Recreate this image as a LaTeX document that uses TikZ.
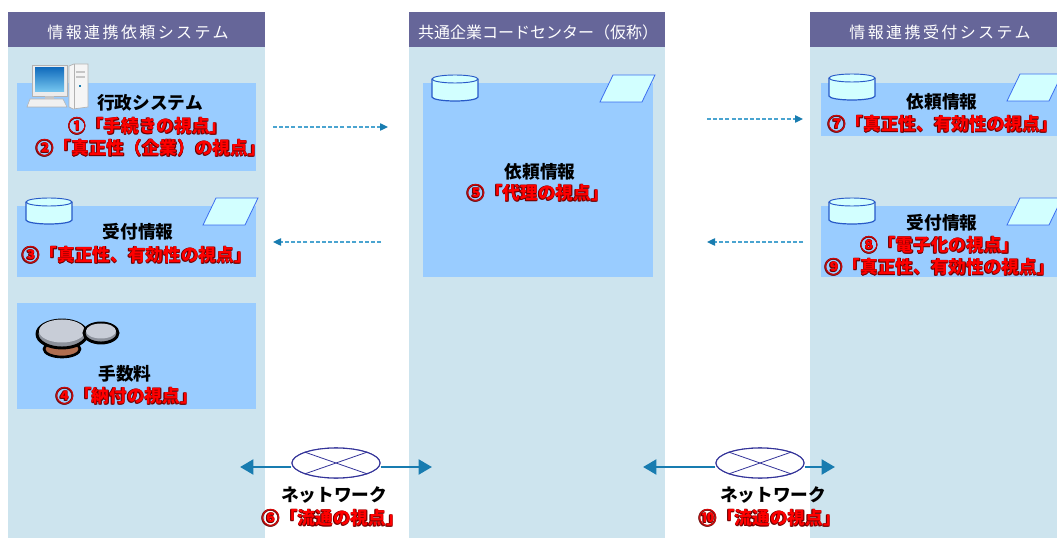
\documentclass[tikz,border=0pt]{standalone}
\usepackage{fontspec}
\usetikzlibrary{arrows.meta,shapes.geometric}

\newfontfamily\jpfont{Noto Sans CJK JP}
\newfontfamily\jphdr[LetterSpace=15]{Noto Sans CJK JP}

\definecolor{hdrbar}{RGB}{102,102,153}
\definecolor{colbg}{RGB}{205,228,238}
\definecolor{innerbox}{RGB}{153,204,255}
\definecolor{cylfill}{RGB}{210,255,255}
\definecolor{cyledge}{RGB}{40,90,200}
\definecolor{paraedge}{RGB}{60,110,240}
\definecolor{flowblue}{RGB}{24,124,176}
\definecolor{dashblue}{RGB}{74,164,208}
\definecolor{netedge}{RGB}{51,51,153}
\definecolor{viewred}{RGB}{255,0,0}
\definecolor{viewedge}{RGB}{110,0,0}
\definecolor{coinface}{RGB}{200,205,215}
\definecolor{coinrim}{RGB}{140,145,155}
\definecolor{copper}{RGB}{176,110,80}

% red viewpoint label with a thin dark rim
\newcommand\rimtext[1]{\leavevmode
  \rlap{\textcolor{viewedge}{\kern0.35pt\raisebox{0.35pt}{#1}}}%
  \rlap{\textcolor{viewedge}{\kern-0.35pt\raisebox{0.35pt}{#1}}}%
  \rlap{\textcolor{viewedge}{\kern0.35pt\raisebox{-0.35pt}{#1}}}%
  \rlap{\textcolor{viewedge}{\kern-0.35pt\raisebox{-0.35pt}{#1}}}%
  \textcolor{viewred}{#1}}

\begin{document}
\begin{tikzpicture}[x=0.75pt,y=-0.75pt,
  hdrtxt/.style={font=\jphdr\fontsize{12}{14}\selectfont, text=white, inner sep=0pt},
  hdrtxtc/.style={font=\jpfont\fontsize{12}{14}\selectfont, text=white, inner sep=0pt},
  itemtxt/.style={font=\jpfont\bfseries\fontsize{13.25}{15}\selectfont, text=black, inner sep=0pt},
  viewtxt/.style={font=\jpfont\bfseries\fontsize{13.25}{15}\selectfont, inner sep=0pt},
  dasharrow/.style={dashblue, line width=1pt, dash pattern=on 3pt off 1.6pt,
    -{Triangle[length=6pt,width=5.5pt,color=flowblue]}},
  netarrow/.style={flowblue, line width=2.2pt, -{Triangle[length=10pt,width=11pt]}},
  netell/.style={ellipse, draw=netedge, fill=white, line width=0.8pt,
    minimum width=66pt, minimum height=22.5pt, inner sep=0pt},
  dbcyl/.pic={
    \fill[cylfill] (0,4) rectangle (46,22);
    \fill[cylfill] (23,22) ellipse [x radius=23, y radius=4];
    \draw[cyledge, line width=0.9pt] (0,4) -- (0,22)
      arc[start angle=180, end angle=0, x radius=23, y radius=4] -- (46,4);
    \draw[cyledge, line width=0.7pt, fill=cylfill] (23,4) ellipse [x radius=23, y radius=4];
  },
  paper/.pic={
    \filldraw[fill=cylfill, draw=paraedge, line width=0.6pt]
      (13,0) -- (55,0) -- (42,27) -- (0,27) -- cycle;
  },
  computer/.pic={
    % keyboard
    \filldraw[fill=gray!12, draw=gray!60, line width=0.4pt]
      (3,36) -- (36,36) -- (40,44) -- (0,44) -- cycle;
    % monitor
    \filldraw[fill=gray!15, draw=gray!60, line width=0.5pt] (5,2) rectangle (40,33);
    \shade[top color={rgb,255:red,20;green,110;blue,190}, bottom color={rgb,255:red,120;green,200;blue,240}]
      (8,5) rectangle (37,29);
    \fill[gray!45] (18,33) rectangle (27,36);
    % tower
    \filldraw[fill=gray!8, draw=gray!60, line width=0.5pt]
      (42,3) -- (47,1) -- (61,1) -- (61,44) -- (46,46) -- (42,44) -- cycle;
    \draw[gray!60, line width=0.4pt] (47,1) -- (47,46);
    \fill[gray!45] (49,8) rectangle (58,10);
    \fill[gray!45] (49,13) rectangle (58,15);
    \fill[flowblue] (52,22) rectangle (54,24);
  },
  coins/.pic={
    % copper coin underneath
    \filldraw[fill=copper, draw=black, line width=2pt]
      (25,37) ellipse [x radius=18, y radius=8];
    % large silver coin with its edge
    \filldraw[fill=coinrim, draw=black, line width=2.2pt]
      (25,22) ellipse [x radius=25, y radius=14];
    \fill[coinface] (25,19) ellipse [x radius=23, y radius=11.5];
    % small silver coin with its edge
    \filldraw[fill=coinrim, draw=black, line width=2.2pt]
      (64,21) ellipse [x radius=17, y radius=10];
    \fill[coinface] (64,19) ellipse [x radius=15, y radius=7.5];
  }
]
\clip (0,0) rectangle (1057,538);
\fill[white] (0,0) rectangle (1057,538);

% ---- system columns ----
\fill[colbg] (8,12) rectangle (265,545);
\fill[hdrbar] (8,12) rectangle (265,47);
\fill[colbg] (409,12) rectangle (665,545);
\fill[hdrbar] (409,12) rectangle (665,47);
\fill[colbg] (810,12) rectangle (1067,545);
\fill[hdrbar] (810,12) rectangle (1067,47);

\node[hdrtxt] (hdrL) at (138,32) {情報連携依頼システム};
\node[hdrtxtc] (hdrM) at (538,32) {共通企業コードセンター（仮称）};
\node[hdrtxt] (hdrR) at (940,32) {情報連携受付システム};

% ---- inner panels ----
\fill[innerbox] (17,83) rectangle (256,171);
\fill[innerbox] (17,206) rectangle (256,277);
\fill[innerbox] (17,303) rectangle (256,409);
\fill[innerbox] (423,83) rectangle (653,277);
\fill[innerbox] (821,83) rectangle (1067,136);
\fill[innerbox] (821,206) rectangle (1067,277);

% ---- icons ----
\pic at (27,63) {computer};
\pic at (37,312) {coins};
\pic at (26,198) {dbcyl};
\pic at (203,198) {paper};
\pic at (432,75) {dbcyl};
\pic at (600,75) {paper};
\pic at (829,74) {dbcyl};
\pic at (1007,74) {paper};
\pic at (829,198) {dbcyl};
\pic at (1007,198) {paper};

% ---- left column texts ----
\node[itemtxt] (gyosei) at (150,103) {行政システム};
\node[viewtxt] (v1) at (148,126) {\rimtext{①「手続きの視点」}};
\node[viewtxt] (v2) at (151,148) {\rimtext{②「真正性（企業）の視点」}};
\node[itemtxt] (uketsukeL) at (138,232) {受付情報};
\node[viewtxt] (v3) at (137,255) {\rimtext{③「真正性、有効性の視点」}};
\node[itemtxt] (tesuryo) at (125,374) {手数料};
\node[viewtxt] (v4) at (127,396) {\rimtext{④「納付の視点」}};

% ---- centre column texts ----
\node[itemtxt] (iraiM) at (540,172) {依頼情報};
\node[viewtxt] (v5) at (538,193) {\rimtext{⑤「代理の視点」}};

% ---- right column texts ----
\node[itemtxt] (iraiR) at (942,102) {依頼情報};
\node[viewtxt] (v7) at (943,124) {\rimtext{⑦「真正性、有効性の視点」}};
\node[itemtxt] (uketsukeR) at (942,223) {受付情報};
\node[viewtxt] (v8) at (940,245) {\rimtext{⑧「電子化の視点」}};
\node[viewtxt] (v9) at (940,267) {\rimtext{⑨「真正性、有効性の視点」}};

% ---- information flow (dashed) ----
\coordinate (f1s) at (273,127);
\coordinate (f1e) at (388,127);
\coordinate (f2s) at (381,242);
\coordinate (f2e) at (273,242);
\coordinate (f3s) at (707,119);
\coordinate (f3e) at (803,119);
\coordinate (f4s) at (803,242);
\coordinate (f4e) at (707,242);
\draw[dasharrow] (f1s) -- (f1e);
\draw[dasharrow] (f2s) -- (f2e);
\draw[dasharrow] (f3s) -- (f3e);
\draw[dasharrow] (f4s) -- (f4e);

% ---- networks ----
\coordinate (n1l) at (240,467);
\coordinate (n1r) at (432,467);
\coordinate (n2l) at (643,467);
\coordinate (n2r) at (835,467);
\node[netell] (net1) at (336,463) {};
\node[netell] (net2) at (760,463) {};
\draw[netarrow] (net1.west |- n1l) -- (n1l);
\draw[netarrow] (net1.east |- n1r) -- (n1r);
\draw[netarrow] (net2.west |- n2l) -- (n2l);
\draw[netarrow] (net2.east |- n2r) -- (n2r);
\node[netell] (net1f) at (336,463) {};
\node[netell] (net2f) at (760,463) {};
\draw[netedge, line width=0.6pt] (net1f.north west) -- (net1f.south east)
  (net1f.north east) -- (net1f.south west);
\draw[netedge, line width=0.6pt] (net2f.north west) -- (net2f.south east)
  (net2f.north east) -- (net2f.south west);

\node[itemtxt] (netlab1) at (334,495) {ネットワーク};
\node[viewtxt] (v6) at (333,518) {\rimtext{⑥「流通の視点」}};
\node[itemtxt] (netlab2) at (773,495) {ネットワーク};
\node[viewtxt] (v10) at (770,518) {\rimtext{⑩「流通の視点」}};
\end{tikzpicture}
\end{document}
